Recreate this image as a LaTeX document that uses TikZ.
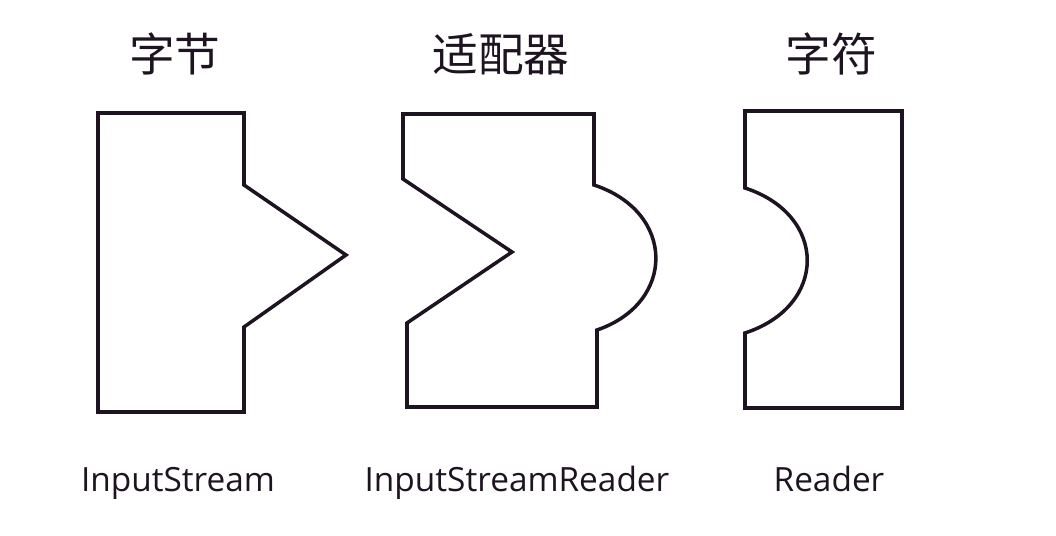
\documentclass[tikz,border=0pt]{standalone}
\usepackage{fontspec}
\setmainfont{Open Sans}
\newfontfamily\cjk{Noto Sans CJK SC}
\usetikzlibrary{positioning}
\definecolor{inkdark}{HTML}{1D1321}

\begin{document}
\begin{tikzpicture}[
    x=0.02cm, y=-0.02cm,
    text=inkdark,
    outline/.style={draw=inkdark, line width=2pt, line join=miter},
    titlelabel/.style={font=\cjk\fontsize{26}{30}\selectfont, inner sep=0pt, anchor=base},
    classlabel/.style={font=\fontsize{19}{23}\selectfont, inner sep=0pt, anchor=base},
]
\useasboundingbox (0,0) rectangle (1056,536);

% Titles
\node[titlelabel] (byteT) at (175,72) {字节};
\node[titlelabel] (adaptT) at (501,72) {适配器};
\node[titlelabel] (charT) at (831,72) {字符};

% Byte side — pointed plug
\draw[outline] (98,113) -- (244,113) -- (244,185) -- (346,255) -- (244,327)
    -- (244,412) -- (98,412) -- cycle;

% Adapter — notch on the left, round plug on the right
\draw[outline] (403,114) -- (594,114) -- (594,185)
    .. controls (676,212) and (676,303) .. (597,330)
    -- (597,407) -- (407,407) -- (407,323) -- (512,252) -- (403,179) -- cycle;

% Char side — round socket
\draw[outline] (745,111) -- (902,111) -- (902,408) -- (745,408) -- (745,333)
    .. controls (828,306) and (828,215) .. (745,188) -- cycle;

% Class names
\node[classlabel] (inStream) at (178,492) {InputStream};
\node[classlabel] (inReader) at (517,492) {InputStreamReader};
\node[classlabel] (reader) at (829,492) {Reader};

\end{tikzpicture}
\end{document}
